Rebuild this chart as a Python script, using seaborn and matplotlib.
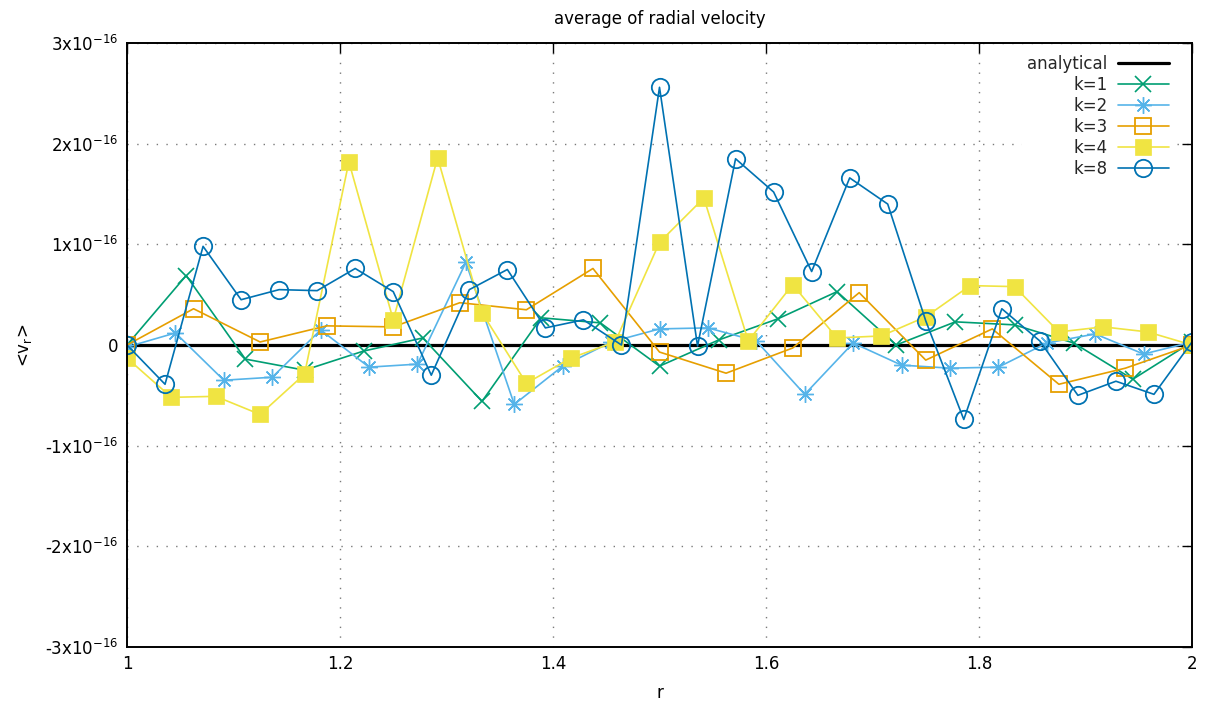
import numpy as np
import pandas as pd
import matplotlib
matplotlib.use("Agg")
import matplotlib.pyplot as plt
import seaborn as sns
from matplotlib.ticker import FuncFormatter, FixedLocator

sns.set_theme(style="white")
plt.rcParams['font.family'] = ['DejaVu Sans']
plt.rcParams['mathtext.default'] = 'regular'

# ---- data (values in units of 1e-16) ----
SCALE = 1e-16
n_k1, n_k2, n_k3, n_k4, n_k8 = 19, 23, 17, 25, 29
k1 = [0, 0.69, -0.14, -0.25, -0.06, 0.07, -0.56, 0.27, 0.22, -0.21, 0.05, 0.26,
      0.53, 0.0, 0.23, 0.2, 0.02, -0.34, 0.03]
k2 = [-0.02, 0.12, -0.35, -0.32, 0.15, -0.22, -0.19, 0.82, -0.59, -0.21, 0.03,
      0.16, 0.17, 0.04, -0.49, 0.02, -0.2, -0.23, -0.22, 0.02, 0.11, -0.09, 0.03]
k3 = [0, 0.36, 0.03, 0.19, 0.18, 0.42, 0.35, 0.76, -0.07, -0.28, -0.03, 0.52,
      -0.15, 0.16, -0.39, -0.23, 0.0]
k4 = [-0.13, -0.52, -0.51, -0.69, -0.29, 1.82, 0.25, 1.86, 0.32, -0.38, -0.13,
      0.03, 1.02, 1.46, 0.04, 0.60, 0.07, 0.09, 0.28, 0.59, 0.58, 0.13, 0.18,
      0.13, 0.0]
k8 = [0.0, -0.39, 0.98, 0.45, 0.55, 0.54, 0.76, 0.53, -0.30, 0.55, 0.75, 0.17,
      0.25, 0.0, 2.56, -0.01, 1.85, 1.52, 0.73, 1.66, 1.40, 0.24, -0.74, 0.36,
      0.04, -0.50, -0.36, -0.49, 0.03]
analytical_r = [1.0, 2.0]
analytical_v = [0.0, 0.0]

x_ticks = [1, 1.2, 1.4, 1.6, 1.8, 2]
x_tick_labels = ["1", "1.2", "1.4", "1.6", "1.8", "2"]
y_tick_units = [-3, -2, -1, 0, 1, 2, 3]

series = [
    ("k=1", n_k1, k1, "#009e73", "x", dict(markersize=11, mew=1.2)),
    ("k=2", n_k2, k2, "#56b4e9", (8, 2, 0), dict(markersize=12, mew=1.0)),
    ("k=3", n_k3, k3, "#e69f00", "s", dict(markersize=11.5, mew=1.3, markerfacecolor="none")),
    ("k=4", n_k4, k4, "#f0e442", "s", dict(markersize=12, mew=0.5)),
    ("k=8", n_k8, k8, "#0072b2", "o", dict(markersize=12.5, mew=1.3, markerfacecolor="none")),
]

fig = plt.figure(figsize=(12.11, 7.17), dpi=100)
ax = fig.add_axes([127 / 1211, 1 - 647 / 717, (1192 - 127) / 1211, (647 - 43) / 717])

sns.lineplot(x=analytical_r, y=analytical_v, ax=ax, color="black", lw=2.3,
             label="analytical", estimator=None, sort=False)

for name, n, vals, col, mk, kw in series:
    df = pd.DataFrame({"r": np.linspace(1, 2, n), "v": np.array(vals) * SCALE})
    sns.lineplot(data=df, x="r", y="v", ax=ax, color=col, lw=1.2, marker=mk,
                 markeredgecolor=col, label=name, estimator=None, sort=False, **kw)

ax.set_xlim(1, 2)
ax.set_ylim(-3e-16, 3e-16)
ax.set_xticks(x_ticks)
ax.set_xticklabels(x_tick_labels)
ax.yaxis.set_major_locator(FixedLocator([u * SCALE for u in y_tick_units]))


def yfmt(v, pos):
    n = int(round(v / SCALE))
    if n == 0:
        return "0"
    return f"{n}x10$^{{-16}}$"


ax.yaxis.set_major_formatter(FuncFormatter(yfmt))
ax.tick_params(direction="in", length=7, width=1, top=True, right=True,
               labelsize=12, colors="black", pad=6)
for s in ax.spines.values():
    s.set_color("black")
    s.set_linewidth(1.4)

ax.grid(True, color="#7a7a7a", linestyle=(0, (1, 6)), lw=1.0)
ax.set_axisbelow(True)

ax.set_xlabel("r", fontsize=12, color="black", labelpad=8)
ax.set_ylabel("<v$_r$>", fontsize=12, color="black", labelpad=8)
ax.set_title("average of radial velocity", fontsize=12, color="black", pad=14)

leg = ax.legend(loc="upper right", markerfirst=False, frameon=True, fontsize=12,
                handlelength=3.1, labelspacing=0.18, borderaxespad=0.4,
                borderpad=0.3, handletextpad=0.6, numpoints=1, fancybox=False,
                bbox_to_anchor=(1 - 11 / 1065, 1.0))
leg.get_frame().set_edgecolor("none")
leg.get_frame().set_facecolor("white")
leg.get_frame().set_alpha(1)

fig.savefig("out.png", dpi=100)
